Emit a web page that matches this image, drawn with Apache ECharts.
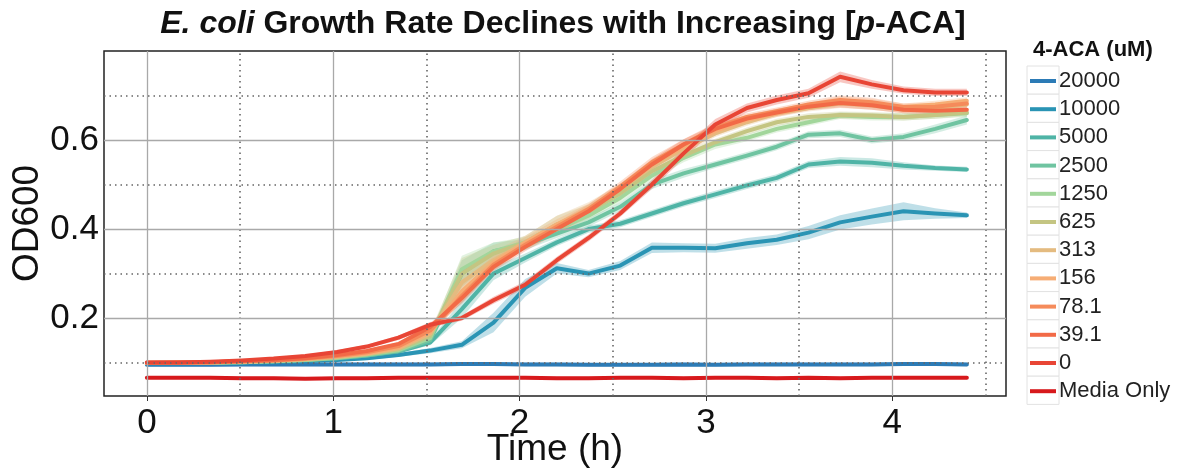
<!DOCTYPE html>
<html>
<head>
    <meta charset="utf-8"/>
    <title>E. coli growth</title>
    <script src="https://cdn.jsdelivr.net/npm/echarts@6/dist/echarts.min.js"></script>
    <style>
        html, body { margin: 0; padding: 0; background: #fff; }
        #main { width: 1195px; height: 473px; }
    </style>
</head>
<body>
<div id="main"></div>
<script>
    // time points (h)
    var times = [0, 0.17, 0.34, 0.51, 0.68, 0.85, 1.02, 1.18, 1.35, 1.52, 1.69, 1.86, 2.03, 2.2, 2.37,
        2.54, 2.71, 2.88, 3.05, 3.22, 3.38, 3.55, 3.72, 3.89, 4.06, 4.23, 4.4];

    var groups = ['20000', '10000', '5000', '2500', '1250', '625', '313', '156', '78.1', '39.1', '0', 'Media Only'];

    // mean OD600 per group
    var od_20000 = [0.095, 0.095, 0.095, 0.096, 0.096, 0.096, 0.096, 0.096, 0.096, 0.096, 0.097, 0.097, 0.096, 0.096, 0.095,
        0.095, 0.095, 0.096, 0.095, 0.096, 0.096, 0.096, 0.096, 0.096, 0.097, 0.097, 0.096];
    var od_10000 = [0.098, 0.098, 0.099, 0.100, 0.101, 0.103, 0.106, 0.110, 0.117, 0.127, 0.140, 0.190, 0.268, 0.312, 0.300,
        0.318, 0.358, 0.358, 0.357, 0.368, 0.376, 0.392, 0.415, 0.428, 0.440, 0.435, 0.431];
    var od_5000 = [0.099, 0.099, 0.100, 0.101, 0.103, 0.106, 0.110, 0.116, 0.125, 0.145, 0.220, 0.300, 0.335, 0.370, 0.400,
        0.412, 0.435, 0.458, 0.478, 0.498, 0.515, 0.545, 0.552, 0.549, 0.542, 0.537, 0.534];
    var od_2500 = [0.099, 0.099, 0.100, 0.101, 0.103, 0.106, 0.110, 0.116, 0.126, 0.150, 0.300, 0.350, 0.365, 0.390, 0.415,
        0.450, 0.500, 0.525, 0.545, 0.565, 0.585, 0.612, 0.615, 0.600, 0.607, 0.625, 0.645];
    var od_1250 = [0.099, 0.099, 0.100, 0.101, 0.103, 0.106, 0.111, 0.118, 0.128, 0.155, 0.310, 0.350, 0.370, 0.400, 0.430,
        0.470, 0.520, 0.560, 0.590, 0.605, 0.625, 0.640, 0.655, 0.652, 0.652, 0.656, 0.660];
    var od_625 = [0.099, 0.099, 0.100, 0.102, 0.104, 0.107, 0.112, 0.119, 0.130, 0.160, 0.300, 0.345, 0.370, 0.410, 0.440,
        0.480, 0.530, 0.565, 0.595, 0.620, 0.640, 0.652, 0.656, 0.655, 0.652, 0.656, 0.662];
    var od_313 = [0.099, 0.100, 0.100, 0.102, 0.104, 0.108, 0.113, 0.120, 0.132, 0.165, 0.280, 0.330, 0.370, 0.410, 0.445,
        0.490, 0.540, 0.580, 0.615, 0.640, 0.660, 0.672, 0.682, 0.678, 0.668, 0.672, 0.680];
    var od_156 = [0.099, 0.100, 0.101, 0.102, 0.105, 0.108, 0.114, 0.121, 0.134, 0.168, 0.260, 0.325, 0.370, 0.410, 0.445,
        0.490, 0.545, 0.585, 0.620, 0.645, 0.660, 0.675, 0.688, 0.682, 0.674, 0.680, 0.688];
    var od_78 = [0.099, 0.100, 0.101, 0.103, 0.105, 0.109, 0.115, 0.123, 0.137, 0.172, 0.250, 0.320, 0.365, 0.405, 0.445,
        0.495, 0.550, 0.590, 0.628, 0.652, 0.665, 0.680, 0.690, 0.685, 0.674, 0.675, 0.682];
    var od_39 = [0.100, 0.100, 0.101, 0.103, 0.106, 0.110, 0.117, 0.126, 0.142, 0.180, 0.245, 0.315, 0.360, 0.400, 0.440,
        0.490, 0.545, 0.590, 0.625, 0.648, 0.662, 0.675, 0.683, 0.678, 0.668, 0.666, 0.668];
    var od_0 = [0.100, 0.100, 0.102, 0.105, 0.109, 0.115, 0.124, 0.136, 0.156, 0.185, 0.200, 0.240, 0.275, 0.330, 0.380,
        0.435, 0.500, 0.570, 0.635, 0.672, 0.690, 0.705, 0.742, 0.725, 0.712, 0.707, 0.707];
    var od_media = [0.066, 0.066, 0.066, 0.065, 0.065, 0.064, 0.065, 0.065, 0.066, 0.066, 0.066, 0.066, 0.066, 0.065, 0.065,
        0.066, 0.066, 0.065, 0.066, 0.066, 0.065, 0.066, 0.065, 0.066, 0.066, 0.066, 0.066];

    // half width of the shaded band per group
    var sd_20000 = [0.004, 0.004, 0.004, 0.004, 0.004, 0.004, 0.004, 0.004, 0.004, 0.004, 0.004, 0.004, 0.004, 0.004, 0.004,
        0.004, 0.004, 0.004, 0.004, 0.004, 0.004, 0.004, 0.004, 0.004, 0.004, 0.004, 0.004];
    var sd_10000 = [0.003, 0.003, 0.003, 0.003, 0.003, 0.003, 0.003, 0.004, 0.004, 0.006, 0.008, 0.022, 0.020, 0.012, 0.008,
        0.010, 0.012, 0.010, 0.010, 0.012, 0.012, 0.015, 0.016, 0.018, 0.020, 0.012, 0.006];
    var sd_5000 = [0.003, 0.003, 0.003, 0.003, 0.003, 0.003, 0.003, 0.003, 0.004, 0.006, 0.020, 0.015, 0.010, 0.008, 0.008,
        0.008, 0.008, 0.008, 0.008, 0.008, 0.008, 0.008, 0.010, 0.010, 0.008, 0.006, 0.006];
    var sd_2500 = [0.003, 0.003, 0.003, 0.003, 0.003, 0.003, 0.003, 0.003, 0.004, 0.008, 0.030, 0.020, 0.012, 0.010, 0.010,
        0.010, 0.010, 0.010, 0.008, 0.008, 0.008, 0.008, 0.008, 0.008, 0.008, 0.010, 0.010];
    var sd_1250 = [0.003, 0.003, 0.003, 0.003, 0.003, 0.003, 0.003, 0.003, 0.004, 0.008, 0.030, 0.020, 0.012, 0.012, 0.010,
        0.010, 0.010, 0.010, 0.010, 0.008, 0.008, 0.008, 0.008, 0.008, 0.008, 0.008, 0.008];
    var sd_625 = [0.003, 0.003, 0.003, 0.003, 0.003, 0.003, 0.003, 0.003, 0.004, 0.010, 0.035, 0.020, 0.015, 0.020, 0.015,
        0.012, 0.010, 0.010, 0.008, 0.008, 0.008, 0.008, 0.008, 0.008, 0.008, 0.008, 0.008];
    var sd_313 = [0.003, 0.003, 0.003, 0.003, 0.003, 0.003, 0.003, 0.003, 0.004, 0.010, 0.030, 0.020, 0.015, 0.020, 0.015,
        0.012, 0.010, 0.010, 0.008, 0.008, 0.008, 0.008, 0.010, 0.010, 0.008, 0.008, 0.008];
    var sd_156 = [0.003, 0.003, 0.003, 0.003, 0.003, 0.003, 0.003, 0.003, 0.004, 0.008, 0.020, 0.015, 0.012, 0.012, 0.012,
        0.012, 0.010, 0.010, 0.010, 0.008, 0.008, 0.008, 0.010, 0.010, 0.008, 0.008, 0.008];
    var sd_78 = [0.003, 0.003, 0.003, 0.003, 0.003, 0.003, 0.003, 0.003, 0.004, 0.008, 0.015, 0.012, 0.010, 0.010, 0.010,
        0.012, 0.012, 0.012, 0.010, 0.008, 0.008, 0.008, 0.010, 0.010, 0.008, 0.008, 0.008];
    var sd_39 = [0.003, 0.003, 0.003, 0.003, 0.003, 0.003, 0.003, 0.004, 0.004, 0.008, 0.012, 0.010, 0.010, 0.010, 0.010,
        0.012, 0.012, 0.012, 0.010, 0.008, 0.008, 0.008, 0.010, 0.010, 0.008, 0.008, 0.008];
    var sd_0 = [0.003, 0.003, 0.003, 0.003, 0.003, 0.003, 0.004, 0.004, 0.005, 0.006, 0.006, 0.008, 0.008, 0.008, 0.008,
        0.008, 0.010, 0.012, 0.012, 0.010, 0.010, 0.010, 0.012, 0.010, 0.008, 0.008, 0.008];
    var sd_media = [0.003, 0.003, 0.003, 0.003, 0.003, 0.003, 0.003, 0.003, 0.003, 0.003, 0.003, 0.003, 0.003, 0.003, 0.003,
        0.003, 0.003, 0.003, 0.003, 0.003, 0.003, 0.003, 0.003, 0.003, 0.003, 0.003, 0.003];

    var means = [od_20000, od_10000, od_5000, od_2500, od_1250, od_625, od_313, od_156, od_78, od_39, od_0, od_media];
    var spreads = [sd_20000, sd_10000, sd_5000, sd_2500, sd_1250, sd_625, sd_313, sd_156, sd_78, sd_39, sd_0, sd_media];

    var colors = ['#2c7bb6', '#2a94b4', '#4fb4a6', '#6fc4a1', '#a2d69b', '#c4c582', '#e4bb80', '#f6ad75',
        '#f58b5b', '#f26a47', '#e84535', '#d7191c'];

    // gridline positions / tick labels
    var xTicks = [0, 1, 2, 3, 4];
    var xMinor = [0.5, 1.5, 2.5, 3.5, 4.5];
    var yTicks = [0.2, 0.4, 0.6];
    var yMinor = [0.1, 0.3, 0.5, 0.7];

    var chart = echarts.init(document.getElementById('main'));
    var font = 'Liberation Sans, Arial, Helvetica, sans-serif';

    var gridLines = [];
    xTicks.forEach(function (v) {
        gridLines.push({xAxis: v, lineStyle: {color: '#a9a9a9', width: 1.3, type: 'solid'}});
    });
    xMinor.forEach(function (v) {
        gridLines.push({xAxis: v, lineStyle: {color: '#666', width: 1.6, type: [1.5, 4]}});
    });
    yTicks.forEach(function (v) {
        gridLines.push({yAxis: v, lineStyle: {color: '#a9a9a9', width: 1.3, type: 'solid'}});
    });
    yMinor.forEach(function (v) {
        gridLines.push({yAxis: v, lineStyle: {color: '#666', width: 1.6, type: [1.5, 4]}});
    });

    var series = [{
        type: 'line',
        name: 'grid',
        data: [],
        silent: true,
        z: 0,
        markLine: {
            silent: true,
            symbol: 'none',
            label: {show: false},
            animation: false,
            data: gridLines
        }
    }];

    groups.forEach(function (g, k) {
        var m = means[k], s = spreads[k];
        series.push({
            type: 'custom',
            name: 'band ' + g,
            coordinateSystem: 'cartesian2d',
            data: [[times[0], m[0]]],
            z: 1,
            silent: true,
            clip: true,
            renderItem: function (params, api) {
                var pts = [];
                for (var i = 0; i < times.length; i++) {
                    pts.push(api.coord([times[i], m[i] + s[i]]));
                }
                for (var j = times.length - 1; j >= 0; j--) {
                    pts.push(api.coord([times[j], m[j] - s[j]]));
                }
                return {
                    type: 'polygon',
                    shape: {points: pts},
                    style: {fill: colors[k], opacity: 0.3}
                };
            }
        });
    });

    groups.forEach(function (g, k) {
        var m = means[k];
        series.push({
            type: 'line',
            name: g,
            data: times.map(function (t, i) { return [t, m[i]]; }),
            showSymbol: false,
            symbol: 'none',
            z: 2,
            color: colors[k],
            lineStyle: {width: 4, color: colors[k], cap: 'round', join: 'round'}
        });
    });

    // light boxes behind the legend keys
    var keyBoxes = groups.map(function (g, k) {
        return {
            type: 'rect',
            shape: {x: 1027, y: 66 + k * 28.2, width: 32, height: 28.2},
            style: {fill: '#fff', stroke: '#e2e2e2', lineWidth: 1},
            z: -1,
            silent: true
        };
    });

    var option = {
        animation: false,
        backgroundColor: '#fff',
        title: [{
            text: '{i|E. coli} Growth Rate Declines with Increasing [{i|p}-ACA]',
            left: 558,
            top: 3,
            textAlign: 'center',
            textStyle: {
                fontFamily: font, fontSize: 32, fontWeight: 'bold', color: '#111',
                rich: {i: {fontFamily: font, fontSize: 32, fontWeight: 'bold', fontStyle: 'italic', color: '#111'}}
            }
        }, {
            text: '4-ACA (uM)',
            left: 1028,
            top: 34,
            textStyle: {fontFamily: font, fontSize: 22, fontWeight: 'bold', color: '#111'}
        }],
        graphic: keyBoxes,
        legend: {
            data: groups,
            orient: 'vertical',
            left: 1030,
            top: 70,
            padding: 0,
            itemGap: 6.2,
            itemWidth: 26,
            itemHeight: 4,
            icon: 'rect',
            textStyle: {fontFamily: font, fontSize: 22, color: '#222', padding: [0, 0, 0, -2]}
        },
        grid: {
            left: 104, right: 189, top: 51, bottom: 77,
            outerBoundsMode: 'none',
            show: true, borderColor: '#222', borderWidth: 1.5
        },
        xAxis: {
            type: 'value',
            min: -0.23,
            max: 4.61,
            name: 'Time (h)',
            nameLocation: 'middle',
            nameGap: 35,
            nameMoveOverlap: false,
            nameTextStyle: {fontFamily: font, fontSize: 37, color: '#111'},
            axisLine: {show: false},
            axisTick: {show: true, customValues: xTicks, length: 5, lineStyle: {color: '#333'}},
            axisLabel: {customValues: xTicks, fontFamily: font, fontSize: 35, color: '#111', margin: 10},
            splitLine: {show: false}
        },
        yAxis: {
            type: 'value',
            min: 0.025,
            max: 0.8,
            name: 'OD600',
            nameLocation: 'middle',
            nameRotate: 90,
            nameGap: 58,
            nameMoveOverlap: false,
            nameTextStyle: {fontFamily: font, fontSize: 37, color: '#111'},
            axisLine: {show: false},
            axisTick: {show: true, customValues: yTicks, length: 5, lineStyle: {color: '#333'}},
            axisLabel: {
                customValues: yTicks, fontFamily: font, fontSize: 35, color: '#111', margin: 5,
                formatter: function (v) { return v.toFixed(1); }
            },
            splitLine: {show: false}
        },
        series: series
    };

    chart.setOption(option);
</script>
</body>
</html>
